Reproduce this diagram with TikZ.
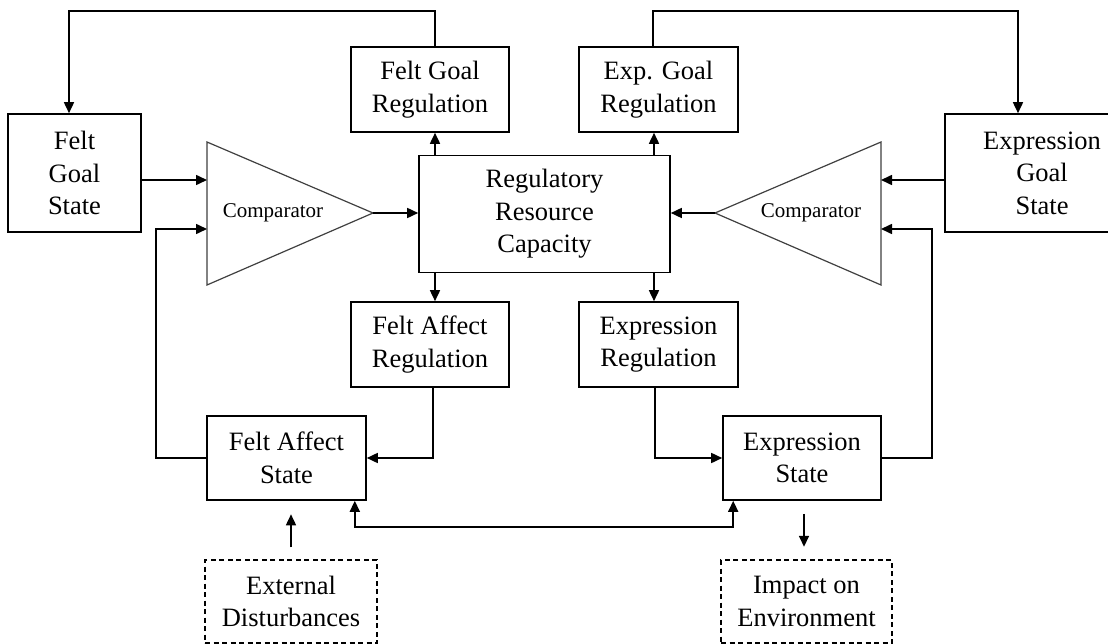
\documentclass[tikz,border=0pt]{standalone}
\usepackage{fontspec}
\setmainfont{Liberation Serif}
\usetikzlibrary{arrows.meta}
\begin{document}
\begin{tikzpicture}[x=1pt,y=-1pt,
  box/.style={draw, line width=1.6pt, align=center, inner sep=0pt, font=\fontsize{26.5}{32.5}\selectfont},
  dbox/.style={box, line width=1.4pt, dash pattern=on 5pt off 3.5pt},
  arr/.style={line width=1.6pt, -{Triangle[length=11pt,width=10pt]}},
  darr/.style={line width=1.6pt, {Triangle[length=11pt,width=10pt]}-{Triangle[length=11pt,width=10pt]}},
  tri/.style={line width=1.2pt, draw=black!75},
  clab/.style={font=\fontsize{21}{25}\selectfont}]
\clip (0,0) rectangle (1108,644);
\fill[white] (0,0) rectangle (1108,644);

% boxes
\node[box, minimum width=133pt, minimum height=118pt] (FGS) at (74.5,173) {Felt\\Goal\\State};
\node[box, minimum width=158pt, minimum height=85pt] (FGR) at (430,89.5) {Felt Goal\\Regulation};
\node[box, minimum width=159pt, minimum height=85pt] (EGR) at (658.5,89.5) {Exp. Goal\\Regulation};
\node[box, minimum width=194pt, minimum height=118pt] (EGS) at (1042,173) {Expression\\Goal\\State};
\node[box, minimum width=251pt, minimum height=117pt] (RRC) at (544.5,214) {Regulatory\\Resource\\Capacity};
\node[box, minimum width=158pt, minimum height=85pt] (FAR) at (430,344.5) {Felt Affect\\Regulation};
\node[box, minimum width=159pt, minimum height=85pt] (ER) at (658.5,344.5) {Expression\\Regulation};
\node[box, minimum width=159pt, minimum height=84pt] (FAS) at (286.5,458) {Felt Affect\\State};
\node[box, minimum width=158pt, minimum height=84pt] (ES) at (802,458) {Expression\\State};
\node[dbox, minimum width=172pt, minimum height=83pt] (ED) at (291,601.5) {External\\Disturbances};
\node[dbox, minimum width=171pt, minimum height=83pt] (IE) at (806.5,601.5) {Impact on\\Environment};

% comparators
\coordinate (LT) at (207,142); \coordinate (LB) at (207,285); \coordinate (LA) at (373,213);
\coordinate (RT) at (881,142); \coordinate (RB) at (881,285); \coordinate (RA) at (715,213);
\draw[tri] (LT) -- (LA) -- (LB) -- cycle;
\draw[tri] (RT) -- (RA) -- (RB) -- cycle;
\node[clab] (cmpL) at (273,213) {Comparator};
\node[clab] (cmpR) at (811,213) {Comparator};
\coordinate (inL1) at (207,180); \coordinate (inL2) at (207,229);
\coordinate (inR1) at (881,180); \coordinate (inR2) at (881,229);

% connectors
\draw[arr] (FGS.east |- inL1) -- (inL1);
\draw[arr] (FAS.west) -- ++(-50,0) |- (inL2);
\draw[arr] (LA) -- (LA -| RRC.west);
\draw[arr] (RA) -- (RA -| RRC.east);
\draw[arr] (EGS.west |- inR1) -- (inR1);
\draw[arr] (ES.east) -- ++(50,0) |- (inR2);
\draw[arr] ([xshift=5pt]FGR.south |- RRC.north) -- ([xshift=5pt]FGR.south);
\draw[arr] ([xshift=5pt]FAR.north |- RRC.south) -- ([xshift=5pt]FAR.north);
\draw[arr] ([xshift=-4.5pt]EGR.south |- RRC.north) -- ([xshift=-4.5pt]EGR.south);
\draw[arr] ([xshift=-4.5pt]ER.north |- RRC.south) -- ([xshift=-4.5pt]ER.north);
\draw[arr] ([xshift=5pt]FGR.north) -- ++(0,-35) -| ([xshift=-5.5pt]FGS.north);
\draw[arr] ([xshift=-5.5pt]EGR.north) -- ++(0,-35) -| ([xshift=-24pt]EGS.north);
\draw[arr] ([xshift=3pt]FAR.south) |- (FAS.east);
\draw[arr] ([xshift=-3.5pt]ER.south) |- (ES.west);
\draw[darr] ([xshift=-12pt]FAS.south east) -- ++(0,26) -| ([xshift=11pt]ES.south west);
\draw[arr] ([yshift=12pt]ED.north) -- ++(0,-33);
\draw[arr] ([xshift=2pt,yshift=-13pt]ES.south) -- ++(0,33);
\end{tikzpicture}
\end{document}
